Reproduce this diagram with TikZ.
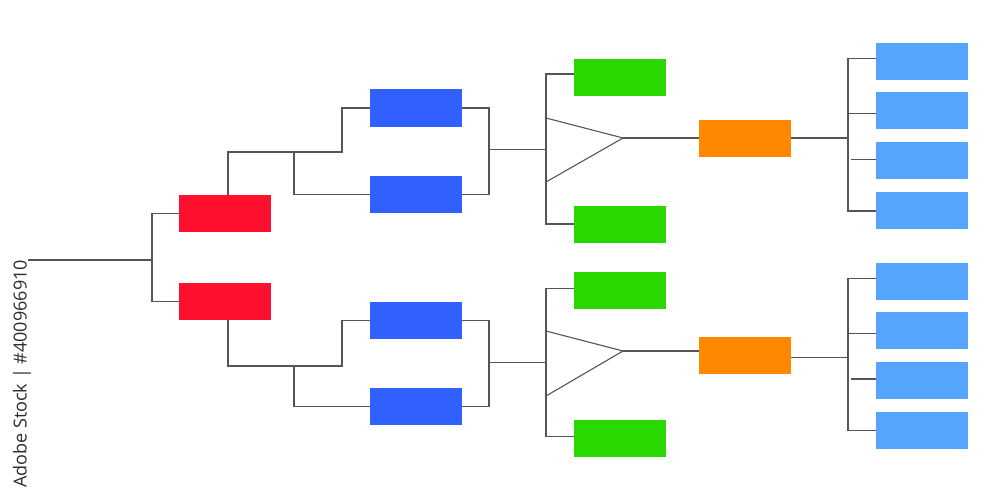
\documentclass[tikz,border=0pt]{standalone}
\usepackage{fontspec}
\newfontfamily\wmfont{Open Sans}
\definecolor{cred}{RGB}{255,16,46}
\definecolor{cblue}{RGB}{48,96,255}
\definecolor{cgreen}{RGB}{40,216,0}
\definecolor{corange}{RGB}{255,136,0}
\definecolor{clight}{RGB}{85,165,255}
\definecolor{cline}{RGB}{85,85,85}
\definecolor{cwm}{RGB}{45,45,45}
\begin{document}
\begin{tikzpicture}[x=1pt,y=-1pt,
  box/.style={draw=none,inner sep=0pt,outer sep=0pt,minimum width=92pt,minimum height=37pt},
  redbox/.style={box,fill=cred},
  bluebox/.style={box,fill=cblue},
  greenbox/.style={box,fill=cgreen},
  orangebox/.style={box,fill=corange},
  lightbox/.style={box,fill=clight},
  conn/.style={draw=cline,line width=1.1pt}]
\fill[white] (0,0) rectangle (1000,500);
\useasboundingbox (0,0) rectangle (1000,500);

% boxes
\node[redbox] (r1) at (225,213.5) {};
\node[redbox] (r2) at (225,301.5) {};
\node[bluebox] (b1) at (416,108) {};
\node[bluebox] (b2) at (416,194.5) {};
\node[bluebox] (b3) at (416,320.2) {};
\node[bluebox] (b4) at (416,406.5) {};
\node[greenbox] (g1) at (619.5,77.5) {};
\node[greenbox] (g2) at (619.5,224) {};
\node[greenbox] (g3) at (619.5,290.7) {};
\node[greenbox] (g4) at (619.5,438.7) {};
\node[orangebox] (o1) at (745,138) {};
\node[orangebox] (o2) at (745,355.7) {};
\node[lightbox] (c1) at (922,61.3) {};
\node[lightbox] (c2) at (922,110.8) {};
\node[lightbox] (c3) at (922,160.5) {};
\node[lightbox] (c4) at (922,210.2) {};
\node[lightbox] (d1) at (922,281) {};
\node[lightbox] (d2) at (922,330.7) {};
\node[lightbox] (d3) at (922,380.2) {};
\node[lightbox] (d4) at (922,430) {};

% junction coordinates
\coordinate (root) at (28,260);
\coordinate (j0) at (152,260);
\coordinate (k1) at (342,152);
\coordinate (k2) at (294,152);
\coordinate (k3) at (342,366);
\coordinate (k4) at (294,366);
\coordinate (m1) at (489,149.5);
\coordinate (m2) at (489,362.5);
\coordinate (t1) at (546,149.5);
\coordinate (t2) at (546,362.5);
\coordinate (tip1) at (623,138);
\coordinate (tip2) at (623,351);
\coordinate (n1) at (848,138);
\coordinate (n2) at (848,357.7);

% root
\draw[conn] (root) -- (j0);
\draw[conn] (r1.west) -| (j0) |- (r2.west);

% upper blue pair
\draw[conn] ([xshift=3pt]r1.north) |- (k1) |- (b1.west);
\draw[conn] (k2) |- (b2.west);
\draw[conn] (b1.east) -| (m1) |- (b2.east);
\draw[conn] (m1) -- (t1);

% lower blue pair
\draw[conn] ([xshift=3pt]r2.south) |- (k3) |- (b3.west);
\draw[conn] (k4) |- (b4.west);
\draw[conn] (b3.east) -| (m2) |- (b4.east);
\draw[conn] (m2) -- (t2);

% upper green / triangle
\draw[conn] ([yshift=3.5pt]g1.west) -| (t1) |- (g2.west);
\draw[conn] (546,118) -- (tip1) -- (546,182);
\draw[conn] (tip1) -- (o1.west);

% lower green / triangle
\draw[conn] ([yshift=2.4pt]g3.west) -| (t2) |- ([yshift=2pt]g4.west);
\draw[conn] (546,331) -- (tip2) -- (546,396);
\draw[conn] (tip2) -- ([yshift=4.7pt]o2.west);

% upper light boxes
\draw[conn] (o1.east) -- (n1);
\draw[conn] ([yshift=2.6pt]c1.west) -| (n1) |- ([yshift=-0.8pt]c4.west);
\draw[conn] ([yshift=-2.9pt]c2.west) -- ([yshift=-2.9pt]c2.west -| n1);
\draw[conn] ([yshift=0.8pt]c3.west) -- ([yshift=0.8pt,xshift=3pt]c3.west -| n1);

% lower light boxes
\draw[conn] ([yshift=-2pt]o2.east) -- (n2);
\draw[conn] ([yshift=2.3pt]d1.west) -| (n2) |- ([yshift=-0.3pt]d4.west);
\draw[conn] ([yshift=-2.6pt]d2.west) -- ([yshift=-2.6pt]d2.west -| n2);
\draw[conn] ([yshift=1.2pt]d3.west) -- ([yshift=1.2pt,xshift=3pt]d3.west -| n2);

% side label
\node[rotate=90,text=cwm,inner sep=0pt,font=\wmfont\fontsize{18}{21}\selectfont] (wm) at (22,374) {Adobe Stock | \#400966910};
\end{tikzpicture}
\end{document}
